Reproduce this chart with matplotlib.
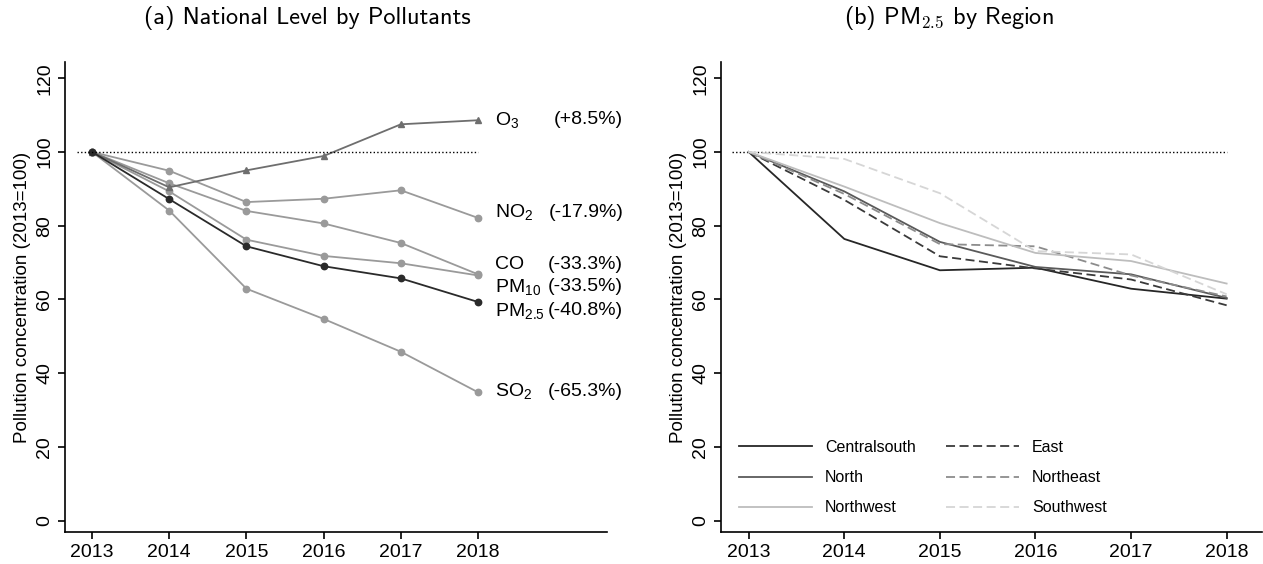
import matplotlib
matplotlib.use("Agg")
import matplotlib.pyplot as plt

plt.rcParams['font.family'] = ['Liberation Sans', 'DejaVu Sans']
plt.rcParams['mathtext.fontset'] = 'custom'
plt.rcParams['mathtext.rm'] = 'Liberation Sans'
plt.rcParams['mathtext.it'] = 'Liberation Sans'
plt.rcParams['mathtext.bf'] = 'Liberation Sans:bold'

years = [2013, 2014, 2015, 2016, 2017, 2018]

# Panel (a): national level by pollutant (2013 = 100)
o3 = [100, 90.4, 95.0, 98.9, 107.5, 108.6]
no2 = [100, 94.9, 86.4, 87.3, 89.6, 82.1]
co = [100, 91.5, 84.0, 80.6, 75.3, 66.8]
pm10 = [100, 89.3, 76.2, 71.8, 69.8, 66.5]
pm25 = [100, 87.2, 74.4, 69.0, 65.7, 59.3]
so2 = [100, 84.1, 62.9, 54.7, 45.8, 34.8]

pollutant_names = [r'O$_3$', r'NO$_2$', 'CO', r'PM$_{10}$', r'PM$_{2.5}$', r'SO$_2$']
pollutant_changes = ['(+8.5%)', '(-17.9%)', '(-33.3%)', '(-33.5%)', '(-40.8%)', '(-65.3%)']
label_y = [108.7, 83.7, 69.6, 63.4, 56.9, 35.1]

# Panel (b): PM2.5 by region (2013 = 100)
regions = ['Centralsouth', 'East', 'North', 'Northeast', 'Northwest', 'Southwest']
centralsouth = [100, 76.4, 67.9, 68.6, 62.9, 60.2]
east = [100, 87.0, 71.7, 68.4, 65.4, 58.4]
north = [100, 89.3, 75.6, 68.8, 66.8, 60.4]
northeast = [100, 88.6, 75.0, 74.4, 66.5, 60.8]
northwest = [100, 90.6, 80.7, 72.6, 70.4, 64.3]
southwest = [100, 98.1, 88.8, 73.1, 72.2, 61.4]

yticks = [0, 20, 40, 60, 80, 100, 120]
ylabel = 'Pollution concentration (2013=100)'

fig = plt.figure(figsize=(12.63, 5.64), dpi=100)
axL = fig.add_axes([65/1263, 32/564, (607-65)/1263, (532-62)/564])
axR = fig.add_axes([721/1263, 32/564, (1262-721)/1263, (532-62)/564])

light = '#9a9a9a'
lw = 1.3
ms = 4.6
axL.plot(years, so2, color=light, lw=lw, marker='o', ms=ms)
axL.plot(years, pm10, color=light, lw=lw, marker='o', ms=ms)
axL.plot(years, co, color=light, lw=lw, marker='o', ms=ms)
axL.plot(years, no2, color=light, lw=lw, marker='o', ms=ms)
axL.plot(years, o3, color='#6e6e6e', lw=lw, marker='^', ms=ms)
axL.plot(years, pm25, color='#2a2a2a', lw=lw, marker='o', ms=ms)

axL.plot([2012.8, 2018], [100, 100], color='black', lw=1.0, ls=(0, (1, 1.6)))

for name, ch, yv in zip(pollutant_names, pollutant_changes, label_y):
    axL.text(2018.22, yv, name, fontsize=14, va='center', ha='left', clip_on=False)
    axL.text(2019.88, yv, ch, fontsize=14, va='center', ha='right', clip_on=False)

# Right panel
styles = {
    'Centralsouth': (centralsouth, '#262626', '-'),
    'East': (east, '#3a3a3a', (0, (5, 2.5))),
    'North': (north, '#5a5a5a', '-'),
    'Northeast': (northeast, '#8c8c8c', (0, (5, 2.5))),
    'Northwest': (northwest, '#bdbdbd', '-'),
    'Southwest': (southwest, '#d6d6d6', (0, (5, 2.5))),
}
axR.plot([2012.82, 2018], [100, 100], color='black', lw=1.0, ls=(0, (1, 1.6)))
handles = {}
for r in regions:
    vals, c, ls = styles[r]
    h, = axR.plot(years, vals, color=c, lw=lw, ls=ls, label=r)
    handles[r] = h
order = ['Centralsouth', 'North', 'Northwest', 'East', 'Northeast', 'Southwest']
axR.legend([handles[k] for k in order], order, ncol=2, frameon=False, fontsize=11.5,
           loc='lower left', bbox_to_anchor=(0.006, 0.005), handlelength=4.6,
           columnspacing=1.9, labelspacing=0.95, handletextpad=0.8)

for ax, xl in ((axL, (2012.65, 2019.67)), (axR, (2012.71, 2018.37))):
    ax.set_xlim(*xl)
    ax.set_ylim(-3.1, 124.4)
    ax.set_xticks(years)
    ax.set_yticks(yticks)
    ax.spines['top'].set_visible(False)
    ax.spines['right'].set_visible(False)
    ax.spines['left'].set_linewidth(1.2)
    ax.spines['bottom'].set_linewidth(1.2)
    ax.tick_params(axis='both', direction='out', length=5, width=1.2, labelsize=14)
    for lab in ax.get_yticklabels():
        lab.set_rotation(90)
        lab.set_va('center')
    ax.set_ylabel(ylabel, fontsize=13.5, labelpad=4)

fig.text(307/1263, 1 - 18/564, '(a) National Level by Pollutants', fontfamily='cmss10',
         fontsize=17.5, ha='center', va='center')
fig.text(949/1263, 1 - 18/564, '(b) PM$_{2.5}$ by Region', fontfamily='cmss10',
         fontsize=17.5, ha='center', va='center', math_fontfamily='cm')

fig.savefig('out.png', dpi=100)
